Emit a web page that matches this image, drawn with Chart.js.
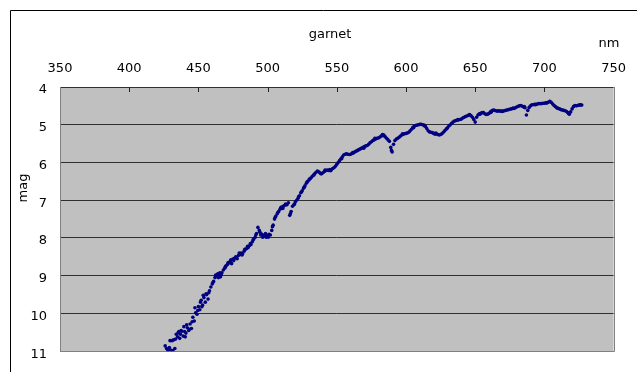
<!DOCTYPE html>
<html>
<head>
<meta charset="utf-8">
<script src="https://cdn.jsdelivr.net/npm/chart.js@4/dist/chart.umd.min.js"></script>
<style>
  html, body { margin: 0; padding: 0; background: #ffffff; }
  #wrap { position: relative; width: 637px; height: 372px; }
</style>
</head>
<body>
<div id="wrap"><canvas id="c" width="637" height="372"></canvas></div>
<script>
// Reflectance spectrum of garnet: wavelength (nm) against magnitude (mag)
const wavelengthNm = [
  426, 427, 428, 429, 430, 431, 432, 433, 434, 435,
  436, 437, 438, 439, 440, 441, 442, 443, 444, 445,
  446, 447, 448, 449, 450, 451, 452, 453, 454, 455,
  456, 457, 458, 459, 460, 461, 462, 463, 464, 465,
  466, 467, 468, 469, 470, 471, 472, 473, 474, 475,
  476, 477, 478, 479, 480, 481, 482, 483, 484, 485,
  486, 487, 488, 489, 490, 491, 492, 493, 494, 495,
  496, 497, 498, 499, 500, 501, 502, 503, 504, 505,
  506, 507, 508, 509, 510, 511, 512, 513, 514, 515,
  516, 517, 518, 519, 520, 521, 522, 523, 524, 525,
  526, 527, 528, 529, 530, 531, 532, 533, 534, 535,
  536, 537, 538, 539, 540, 541, 542, 543, 544, 545,
  546, 547, 548, 549, 550, 551, 552, 553, 554, 555,
  556, 557, 558, 559, 560, 561, 562, 563, 564, 565,
  566, 567, 568, 569, 570, 571, 572, 573, 574, 575,
  576, 577, 578, 579, 580, 581, 582, 583, 584, 585,
  586, 587, 588, 589, 590, 591, 592, 593, 594, 595,
  596, 597, 598, 599, 600, 601, 602, 603, 604, 605,
  606, 607, 608, 609, 610, 611, 612, 613, 614, 615,
  616, 617, 618, 619, 620, 621, 622, 623, 624, 625,
  626, 627, 628, 629, 630, 631, 632, 633, 634, 635,
  636, 637, 638, 639, 640, 641, 642, 643, 644, 645,
  646, 647, 648, 649, 650, 651, 652, 653, 654, 655,
  656, 657, 658, 659, 660, 661, 662, 663, 664, 665,
  666, 667, 668, 669, 670, 671, 672, 673, 674, 675,
  676, 677, 678, 679, 680, 681, 682, 683, 684, 685,
  686, 687, 688, 689, 690, 691, 692, 693, 694, 695,
  696, 697, 698, 699, 700, 701, 702, 703, 704, 705,
  706, 707, 708, 709, 710, 711, 712, 713, 714, 715,
  716, 717, 718, 719, 720, 721, 722, 723, 724, 725,
  726, 727
];
const magnitude = [
  10.86, 10.93, 10.98, 10.90, 10.97, 10.72, 10.70, 10.93, 10.55, 10.62,
  10.48, 10.55, 10.47, 10.60, 10.48, 10.52, 10.38, 10.45, 10.28, 10.40,
  10.10, 10.20, 9.98, 10.02, 9.82, 9.90, 9.65, 9.78, 9.58, 9.70,
  9.50, 9.62, 9.40, 9.30, 9.22, 9.15, 9.05, 9.02, 8.95, 9.00,
  9.03, 8.92, 8.85, 8.80, 8.74, 8.70, 8.66, 8.62, 8.68, 8.56,
  8.54, 8.50, 8.55, 8.46, 8.44, 8.40, 8.42, 8.35, 8.30, 8.28,
  8.25, 8.20, 8.17, 8.10, 8.03, 7.98, 7.88, 7.72, 7.80, 7.92,
  7.90, 7.95, 7.93, 7.98, 7.94, 7.90, 7.92, 7.80, 7.66, 7.50,
  7.42, 7.36, 7.30, 7.24, 7.18, 7.22, 7.14, 7.10, 7.12, 7.07,
  7.40, 7.30, 7.16, 7.12, 7.05, 7.00, 6.95, 6.88, 6.80, 6.75,
  6.68, 6.62, 6.55, 6.50, 6.46, 6.42, 6.38, 6.34, 6.30, 6.26,
  6.23, 6.25, 6.28, 6.30, 6.27, 6.24, 6.22, 6.20, 6.21, 6.19,
  6.20, 6.16, 6.14, 6.10, 6.05, 6.00, 5.95, 5.90, 5.85, 5.80,
  5.78, 5.77, 5.78, 5.79, 5.78, 5.76, 5.75, 5.72, 5.70, 5.68,
  5.66, 5.64, 5.62, 5.60, 5.58, 5.56, 5.55, 5.52, 5.48, 5.45,
  5.42, 5.40, 5.38, 5.36, 5.35, 5.33, 5.30, 5.26, 5.27, 5.32,
  5.36, 5.40, 5.44, 5.60, 5.72, 5.52, 5.42, 5.38, 5.36, 5.33,
  5.30, 5.27, 5.25, 5.24, 5.23, 5.22, 5.20, 5.16, 5.12, 5.07,
  5.04, 5.02, 5.01, 5.00, 4.99, 4.99, 5.00, 5.01, 5.04, 5.10,
  5.16, 5.19, 5.20, 5.21, 5.23, 5.25, 5.24, 5.26, 5.27, 5.26,
  5.24, 5.20, 5.16, 5.12, 5.08, 5.03, 5.00, 4.96, 4.93, 4.90,
  4.89, 4.88, 4.87, 4.86, 4.85, 4.82, 4.80, 4.78, 4.77, 4.75,
  4.73, 4.76, 4.80, 4.86, 4.93, 4.80, 4.74, 4.71, 4.70, 4.68,
  4.68, 4.71, 4.73, 4.72, 4.70, 4.66, 4.63, 4.61, 4.62, 4.63,
  4.64, 4.63, 4.64, 4.64, 4.64, 4.63, 4.62, 4.61, 4.60, 4.59,
  4.58, 4.57, 4.57, 4.55, 4.53, 4.51, 4.50, 4.49, 4.51, 4.53,
  4.55, 4.74, 4.62, 4.54, 4.50, 4.47, 4.47, 4.46, 4.46, 4.45,
  4.44, 4.44, 4.44, 4.43, 4.43, 4.42, 4.42, 4.40, 4.38, 4.41,
  4.45, 4.49, 4.52, 4.55, 4.57, 4.58, 4.60, 4.61, 4.62, 4.63,
  4.65, 4.68, 4.72, 4.66, 4.58, 4.52, 4.49, 4.50, 4.49, 4.48,
  4.47, 4.48
];
// Additional half-nanometre readings
const extraWavelengthNm = [
  429.5, 431.5, 433.5, 435.5, 436.5, 437.5, 439.5, 440.5, 441.5, 443.5,
  445.5, 447.5, 449.5, 451.5, 452.5, 453.5, 455.5, 457.5, 460.5, 462.5,
  464.5, 465.5, 466.5, 469.5, 471.5, 473.5, 475.5, 477.5, 479.5, 481.5,
  483.5, 485.5, 487.5, 489.5, 491.5, 494.5, 496.5, 498.5, 500.5, 503.5,
  505.5, 507.5, 509.5, 511.5, 513.5, 516.5, 519.5, 522.5, 524.5, 526.5,
  528.5, 530.5, 533.5, 538.5, 541.5, 545.5,
  553.5, 561.5, 569.5, 577.5, 583.5, 589.5, 597.5, 605.5, 613.5, 621.5,
  629.5, 637.5, 645.5, 653.5, 661.5, 669.5, 677.5, 685.5, 693.5, 701.5,
  709.5, 717.5, 725.5
];
const extraMagnitude = [
  10.72, 10.98, 10.68, 10.50, 10.66, 10.45, 10.35, 10.62, 10.30, 10.42,
  10.22, 9.85, 9.92, 9.70, 9.82, 9.52, 9.48, 9.45, 9.18, 8.98,
  9.05, 8.92, 8.97, 8.76, 8.65, 8.58, 8.60, 8.52, 8.40, 8.45,
  8.30, 8.22, 8.15, 8.05, 7.92, 7.85, 7.98, 7.88, 7.98, 7.70,
  7.45, 7.32, 7.20, 7.16, 7.12, 7.35, 7.10, 6.90, 6.78, 6.65,
  6.52, 6.43, 6.33, 6.30, 6.20, 6.22,
  5.90, 5.74, 5.62, 5.36, 5.29, 5.68, 5.24, 5.08, 5.03, 5.22,
  5.10, 4.86, 4.75, 4.72, 4.67, 4.65, 4.56, 4.52, 4.47, 4.42,
  4.56, 4.70, 4.48
];

const chartTitle = 'garnet';
const xAxisUnit = 'nm';
const yAxisTitle = 'mag';
const xMin = 350, xMax = 750, xStep = 50;
const yMin = 4, yMax = 11, yStep = 1;

const points = wavelengthNm.map((x, i) => ({ x: x, y: magnitude[i] }))
  .concat(extraWavelengthNm.map((x, i) => ({ x: x, y: extraMagnitude[i] })));

const FONT = 'DejaVu Sans';

// Frame, grey plot area, inner tick marks and free-standing labels
const decorations = {
  id: 'decorations',
  beforeDraw(chart) {
    const ctx = chart.ctx;
    const a = chart.chartArea;
    ctx.save();
    ctx.fillStyle = '#ffffff';
    ctx.fillRect(0, 0, chart.width, chart.height);
    ctx.strokeStyle = '#000000';
    ctx.lineWidth = 1;
    ctx.beginPath();
    ctx.moveTo(10.5, chart.height);
    ctx.lineTo(10.5, 10.5);
    ctx.lineTo(chart.width, 10.5);
    ctx.stroke();
    ctx.fillStyle = '#c0c0c0';
    ctx.fillRect(a.left, a.top, a.right - a.left, a.bottom - a.top);
    ctx.restore();
  },
  beforeDatasetsDraw(chart) {
    const ctx = chart.ctx;
    const a = chart.chartArea;
    const xs = chart.scales.x;
    ctx.save();
    ctx.strokeStyle = '#808080';
    ctx.lineWidth = 1;
    ctx.beginPath();
    ctx.moveTo(Math.round(a.left) + 0.5, Math.round(a.top));
    ctx.lineTo(Math.round(a.left) + 0.5, Math.round(a.bottom) + 0.5);
    ctx.lineTo(Math.round(a.right) + 0.5, Math.round(a.bottom) + 0.5);
    ctx.lineTo(Math.round(a.right) + 0.5, Math.round(a.top));
    ctx.stroke();
    ctx.strokeStyle = '#202020';
    ctx.beginPath();
    for (let v = xMin + xStep; v < xMax; v += xStep) {
      const px = Math.round(xs.getPixelForValue(v)) + 0.5;
      ctx.moveTo(px, Math.round(a.top));
      ctx.lineTo(px, Math.round(a.top) + 5);
    }
    ctx.stroke();
    ctx.restore();
  },
  afterDraw(chart) {
    const ctx = chart.ctx;
    ctx.save();
    ctx.fillStyle = '#000000';
    ctx.font = '13px "' + FONT + '"';
    ctx.textBaseline = 'alphabetic';
    ctx.textAlign = 'center';
    ctx.fillText(chartTitle, 330, 38);
    ctx.fillText(xAxisUnit, 609, 47);
    ctx.translate(27, 188);
    ctx.rotate(-Math.PI / 2);
    ctx.fillText(yAxisTitle, 0, 0);
    ctx.restore();
  }
};

new Chart(document.getElementById('c'), {
  type: 'scatter',
  data: {
    datasets: [{
      label: chartTitle,
      data: points,
      backgroundColor: '#000080',
      borderWidth: 0,
      pointRadius: 1.8,
      pointHoverRadius: 1.8
    }]
  },
  options: {
    responsive: false,
    animation: false,
    layout: { padding: { left: 0, top: 0, right: 15, bottom: 15 } },
    plugins: {
      legend: { display: false },
      title: { display: false },
      tooltip: { enabled: false }
    },
    scales: {
      x: {
        type: 'linear',
        position: 'top',
        min: xMin,
        max: xMax,
        afterFit(scale) { scale.height = 87; },
        border: { display: false },
        grid: { display: false, drawTicks: false },
        ticks: {
          stepSize: xStep,
          padding: 11,
          color: '#000000',
          font: { family: FONT, size: 13 }
        }
      },
      y: {
        type: 'linear',
        reverse: true,
        min: yMin,
        max: yMax,
        afterFit(scale) { scale.width = 60; },
        border: { display: false },
        grid: {
          drawTicks: false,
          lineWidth: 1,
          color: (c) => (c.tick && c.tick.value === yMax) ? '#808080' : '#303030'
        },
        ticks: {
          stepSize: yStep,
          padding: 13,
          labelOffset: 3,
          color: '#000000',
          font: { family: FONT, size: 13 }
        }
      }
    }
  },
  plugins: [decorations]
});
</script>
</body>
</html>
